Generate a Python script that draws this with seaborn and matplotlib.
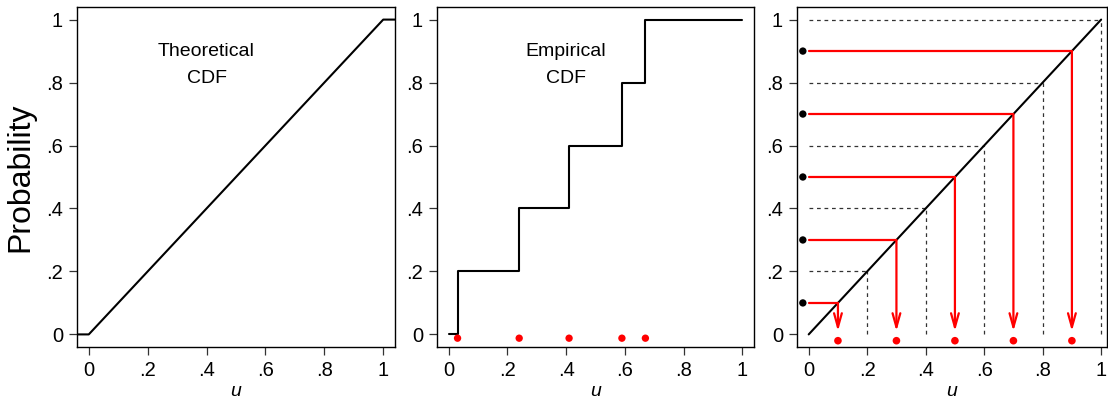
import numpy as np
import pandas as pd
import matplotlib
matplotlib.use("Agg")
import matplotlib.pyplot as plt
import seaborn as sns

# theoretical CDF of U(0,1)
theo_u = [-0.04, 0.0, 1.0, 1.04]
theo_p = [0.0, 0.0, 1.0, 1.0]

# empirical CDF of a small sample
sample = [0.03, 0.24, 0.41, 0.59, 0.67]
ecdf_u = [0.0, 0.03, 0.24, 0.41, 0.59, 0.67, 1.0]
ecdf_p = [0.0, 0.2, 0.4, 0.6, 0.8, 1.0, 1.0]

# inverse transform panel
grid_levels = [0.2, 0.4, 0.6, 0.8, 1.0]
draws = [0.1, 0.3, 0.5, 0.7, 0.9]

ticks = [0, 0.2, 0.4, 0.6, 0.8, 1.0]
tick_labels = ["0", ".2", ".4", ".6", ".8", "1"]

sns.set_style("ticks")
plt.rcParams["font.family"] = ["Liberation Sans", "DejaVu Sans"]
plt.rcParams["text.color"] = "black"
plt.rcParams["axes.labelcolor"] = "black"

fig = plt.figure(figsize=(11.08, 3.99), dpi=100)
ax1 = fig.add_axes([77 / 1108, 52 / 399, 318 / 1108, 340 / 399])
ax2 = fig.add_axes([437 / 1108, 52 / 399, 317 / 1108, 340 / 399])
ax3 = fig.add_axes([797 / 1108, 52 / 399, 310 / 1108, 340 / 399])

red = "#ff0000"

def style(ax, xmax=1.04):
    ax.set_xlim(-0.04, xmax)
    ax.set_ylim(-0.04, 1.04)
    ax.set_xticks(ticks)
    ax.set_xticklabels(tick_labels)
    ax.set_yticks(ticks)
    ax.set_yticklabels(tick_labels)
    ax.tick_params(labelsize=14.5, length=6, width=0.9, color="#333333",
                   labelcolor="black", pad=4)
    for s in ax.spines.values():
        s.set_linewidth(1.0)
        s.set_color("black")
    ax.set_xlabel("u", fontsize=14, fontstyle="italic", labelpad=2)
    ax.set_ylabel("")

# panel 1
df1 = pd.DataFrame({"u": theo_u, "p": theo_p})
sns.lineplot(data=df1, x="u", y="p", ax=ax1, color="black", lw=1.5, sort=False)
ax1.text(0.4, 0.855, "Theoretical\nCDF", ha="center", va="center", fontsize=14,
         linespacing=1.75)
style(ax1)
ax1.set_ylabel("Probability", fontsize=23, labelpad=8)

# panel 2
df2 = pd.DataFrame({"u": ecdf_u, "p": ecdf_p})
sns.lineplot(data=df2, x="u", y="p", ax=ax2, color="black", lw=1.5,
             drawstyle="steps-post", sort=False)
sns.scatterplot(x=sample, y=[-0.012] * len(sample), ax=ax2, color=red, s=28,
                edgecolor="none", zorder=5)
ax2.text(0.4, 0.855, "Empirical\nCDF", ha="center", va="center", fontsize=14,
         linespacing=1.75)
style(ax2)

# panel 3
for g in grid_levels:
    ax3.plot([0, g], [g, g], color="#333333", lw=0.9, ls=(0, (3, 3)))
    ax3.plot([g, g], [0, g], color="#333333", lw=0.9, ls=(0, (3, 3)))
sns.lineplot(x=[0, 1], y=[0, 1], ax=ax3, color="black", lw=1.5)
for d in draws:
    ax3.plot([0, d], [d, d], color=red, lw=1.6)
    ax3.annotate("", xy=(d, 0.01), xytext=(d, d),
                 arrowprops=dict(arrowstyle="->,head_length=1.0,head_width=0.28",
                                 color=red, lw=1.6, shrinkA=0, shrinkB=0))
sns.scatterplot(x=[-0.02] * len(draws), y=draws, ax=ax3, color="black", s=28,
                edgecolor="none", zorder=5)
sns.scatterplot(x=draws, y=[-0.02] * len(draws), ax=ax3, color=red, s=30,
                edgecolor="none", zorder=5)
style(ax3, xmax=1.02)

fig.savefig("out.png", dpi=100)
